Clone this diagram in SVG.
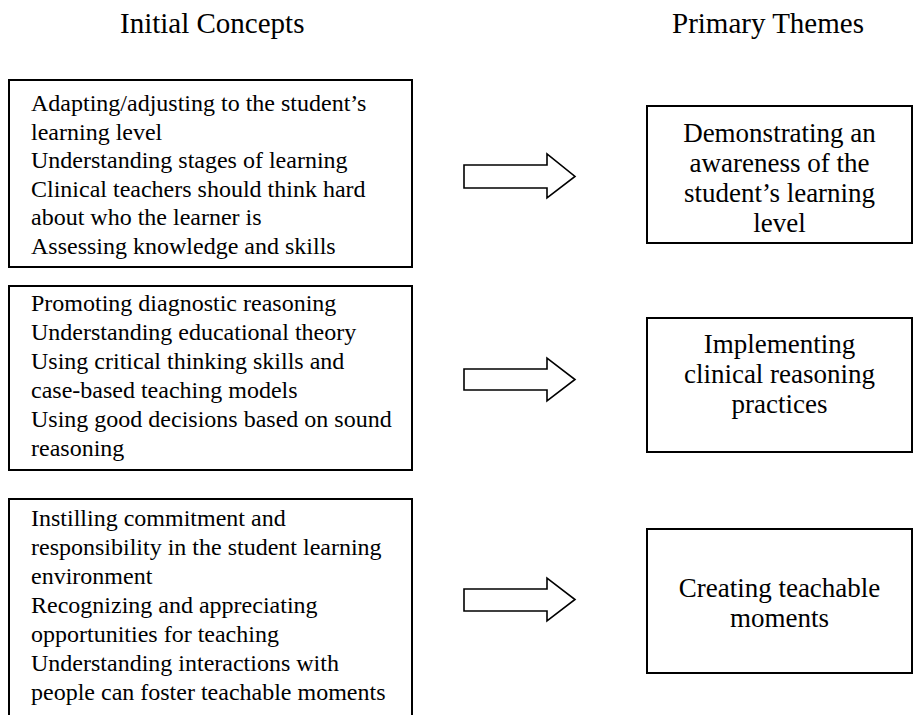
<svg xmlns="http://www.w3.org/2000/svg" width="914" height="715" viewBox="0 0 914 715">
<style>
.box{fill:#fff;stroke:#000;stroke-width:2}
.arr{fill:#fff;stroke:#000;stroke-width:1.6;stroke-linejoin:miter}
text{font-family:"Liberation Serif","Times New Roman",serif;fill:#000}
.h{font-size:29px}
.l{font-size:24px}
.r{font-size:27px;text-anchor:middle}
</style>
<rect width="914" height="715" fill="#fff"/>
<g id="headings">
<text class="h" x="120" y="33">Initial Concepts</text>
<text class="h" x="672" y="33">Primary Themes</text>
</g>
<g id="concepts1">
<rect class="box" x="9" y="80" width="403" height="187"/>
<text class="l" x="31" y="111">Adapting/adjusting to the student’s</text>
<text class="l" x="31" y="139.5">learning level</text>
<text class="l" x="31" y="168">Understanding stages of learning</text>
<text class="l" x="31" y="196.5">Clinical teachers should think hard</text>
<text class="l" x="31" y="225">about who the learner is</text>
<text class="l" x="31" y="253.5">Assessing knowledge and skills</text>
</g>
<g id="concepts2">
<rect class="box" x="9" y="286" width="403" height="184"/>
<text class="l" x="31" y="311">Promoting diagnostic reasoning</text>
<text class="l" x="31" y="340">Understanding educational theory</text>
<text class="l" x="31" y="369">Using critical thinking skills and</text>
<text class="l" x="31" y="398">case-based teaching models</text>
<text class="l" x="31" y="427">Using good decisions based on sound</text>
<text class="l" x="31" y="456">reasoning</text>
</g>
<g id="concepts3">
<rect class="box" x="9" y="499" width="403" height="230"/>
<text class="l" x="31" y="526">Instilling commitment and</text>
<text class="l" x="31" y="555">responsibility in the student learning</text>
<text class="l" x="31" y="584">environment</text>
<text class="l" x="31" y="613">Recognizing and appreciating</text>
<text class="l" x="31" y="642">opportunities for teaching</text>
<text class="l" x="31" y="671">Understanding interactions with</text>
<text class="l" x="31" y="700">people can foster teachable moments</text>
</g>
<g id="theme1">
<rect class="box" x="647" y="106" width="265" height="137"/>
<text class="r" x="779.5" y="142">Demonstrating an</text>
<text class="r" x="779.5" y="172">awareness of the</text>
<text class="r" x="779.5" y="202">student’s learning</text>
<text class="r" x="779.5" y="232">level</text>
</g>
<g id="theme2">
<rect class="box" x="647" y="318" width="265" height="134"/>
<text class="r" x="779.5" y="353">Implementing</text>
<text class="r" x="779.5" y="383">clinical reasoning</text>
<text class="r" x="779.5" y="413">practices</text>
</g>
<g id="theme3">
<rect class="box" x="647" y="529" width="265" height="144"/>
<text class="r" x="779.5" y="597">Creating teachable</text>
<text class="r" x="779.5" y="627">moments</text>
</g>
<g id="connectors">
<polygon class="arr" points="464,165 547,165 547,154 575,176.5 547,198 547,188 464,188"/>
<polygon class="arr" points="464,369 547,369 547,358 575,379.5 547,401 547,390 464,390"/>
<polygon class="arr" points="464,589 547,589 547,578 575,599.5 547,621 547,611 464,611"/>
</g>
</svg>
